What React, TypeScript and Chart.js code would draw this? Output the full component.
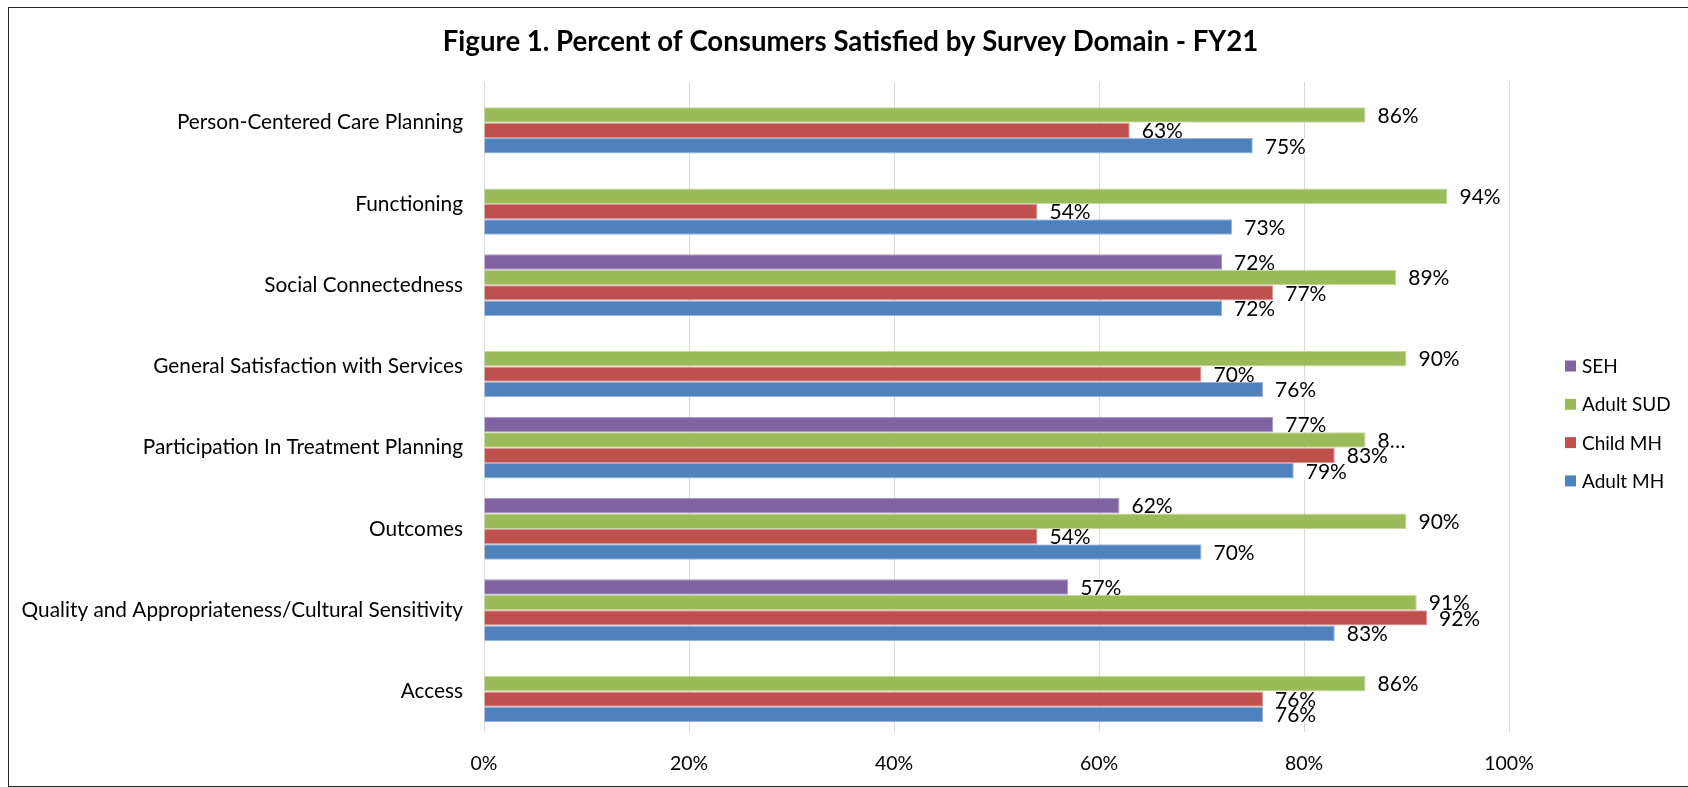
import React, { useEffect, useRef } from "react";
import { Chart, registerables } from "chart.js";

Chart.register(...registerables);

const FONT = "Lato, 'Noto Sans', sans-serif";

const chartTitle = "Figure 1. Percent of Consumers Satisfied by Survey Domain - FY21";

const categories = [
  "Person-Centered Care Planning",
  "Functioning",
  "Social Connectedness",
  "General Satisfaction with Services",
  "Participation In Treatment Planning",
  "Outcomes",
  "Quality and Appropriateness/Cultural Sensitivity",
  "Access",
];

const seriesNames = ["SEH", "Adult SUD", "Child MH", "Adult MH"];

const sehValues = [null, null, 72, null, 77, 62, 57, null];
const adultSudValues = [86, 94, 89, 90, 86, 90, 91, 86];
const childMhValues = [63, 54, 77, 70, 83, 54, 92, 76];
const adultMhValues = [75, 73, 72, 76, 79, 70, 83, 76];

// label text shown in the reference when it differs from "<value>%"
const sehLabelText = [null, null, null, null, null, null, null, null];
const adultSudLabelText = [null, null, null, null, "8…", null, null, null];
const childMhLabelText = [null, null, null, null, null, null, null, null];
const adultMhLabelText = [null, null, null, null, null, null, null, null];

const xTickValues = [0, 20, 40, 60, 80, 100];

const seriesColors = ["#8064A2", "#9BBB59", "#C0504D", "#4F81BD"];
const seriesEdgeColors = ["#A996C4", "#C3D69B", "#D99694", "#95B3D7"];

const titlePlugin = {
  id: "figureTitle",
  afterDraw(chart: any) {
    const ctx = chart.ctx;
    ctx.save();
    ctx.font = `bold 27.6px ${FONT}`;
    ctx.textAlign = "center";
    ctx.textBaseline = "middle";
    ctx.fillStyle = "#000000";
    ctx.fillText(chartTitle, chart.width / 2 + 2, 34);
    ctx.restore();
  },
};

const barLabelPlugin = {
  id: "barLabels",
  afterDatasetsDraw(chart: any) {
    const ctx = chart.ctx;
    const overrides = [sehLabelText, adultSudLabelText, childMhLabelText, adultMhLabelText];
    ctx.save();
    ctx.font = `21px ${FONT}`;
    ctx.textBaseline = "middle";
    ctx.textAlign = "left";
    chart.data.datasets.forEach((ds: any, di: number) => {
      const meta = chart.getDatasetMeta(di);
      meta.data.forEach((bar: any, i: number) => {
        const v = ds.data[i];
        if (v === null || v === undefined) return;
        const text = overrides[di][i] ?? `${v}%`;
        const { x, y, height } = bar.getProps(["x", "y", "height"], true);
        const w = ctx.measureText(text).width;
        ctx.fillStyle = "#ffffff";
        ctx.fillRect(x + 1, y - height / 2, 12 + w + 6, height);
        ctx.fillStyle = "#000000";
        ctx.fillText(text, x + 12, y + 1);
      });
    });
    ctx.restore();
  },
};

const sideLegendPlugin = {
  id: "sideLegend",
  afterDraw(chart: any) {
    const { ctx, chartArea } = chart;
    ctx.save();
    ctx.font = `19px ${FONT}`;
    ctx.textBaseline = "middle";
    ctx.textAlign = "left";
    chart.data.datasets.forEach((ds: any, di: number) => {
      const cy = chartArea.top + 284 + di * 38.3;
      const bx = chartArea.right + 56;
      ctx.fillStyle = ds.backgroundColor;
      ctx.fillRect(bx, cy - 5.5, 11, 11);
      ctx.fillStyle = "#000000";
      ctx.fillText(ds.label, bx + 17, cy + 1);
    });
    ctx.restore();
  },
};

export default function App() {
  const canvasRef = useRef<HTMLCanvasElement | null>(null);

  useEffect(() => {
    if (!canvasRef.current) return;
    const valueSets = [sehValues, adultSudValues, childMhValues, adultMhValues];
    const chart = new Chart(canvasRef.current, {
      type: "bar",
      data: {
        labels: categories,
        datasets: seriesNames.map((name, i) => ({
          label: name,
          data: valueSets[i],
          backgroundColor: seriesColors[i],
          borderColor: seriesEdgeColors[i],
          borderWidth: 1,
          borderSkipped: "start",
          categoryPercentage: 0.763,
          barPercentage: 1.0,
        })),
      },
      options: {
        indexAxis: "y",
        animation: false,
        responsive: false,
        maintainAspectRatio: false,
        layout: { padding: { left: 0, right: 179, top: 74, bottom: 0 } },
        plugins: {
          legend: { display: false },
          tooltip: { enabled: false },
          title: { display: false },
        },
        scales: {
          x: {
            type: "linear",
            min: 0,
            max: 100,
            afterBuildTicks: (scale: any) => {
              scale.ticks = xTickValues.map((v) => ({ value: v }));
            },
            afterFit: (scale: any) => {
              scale.height = 54;
            },
            grid: { color: "#d9d9d9", lineWidth: 1, drawTicks: false },
            border: { display: false },
            ticks: {
              color: "#000000",
              font: { family: FONT, size: 19.5 },
              padding: 20,
              callback: (v: any) => `${v}%`,
            },
          },
          y: {
            afterFit: (scale: any) => {
              scale.width = 475;
            },
            grid: { display: false, drawTicks: false },
            border: { display: false },
            ticks: {
              color: "#000000",
              font: { family: FONT, size: 20.8 },
              padding: 21,
              autoSkip: false,
            },
          },
        },
      },
      plugins: [barLabelPlugin, sideLegendPlugin, titlePlugin],
    } as any);
    return () => chart.destroy();
  }, []);

  return (
    <div
      style={{
        position: "absolute",
        left: 8,
        top: 7,
        width: 1680,
        height: 780,
        boxSizing: "border-box",
        borderLeft: "1px solid #262626",
        borderTop: "1px solid #262626",
        borderBottom: "1px solid #262626",
        background: "#ffffff",
      }}
    >
      <canvas
        ref={canvasRef}
        width={1679}
        height={778}
        style={{ position: "absolute", left: 0, top: 0, width: 1679, height: 778 }}
      />
    </div>
  );
}
